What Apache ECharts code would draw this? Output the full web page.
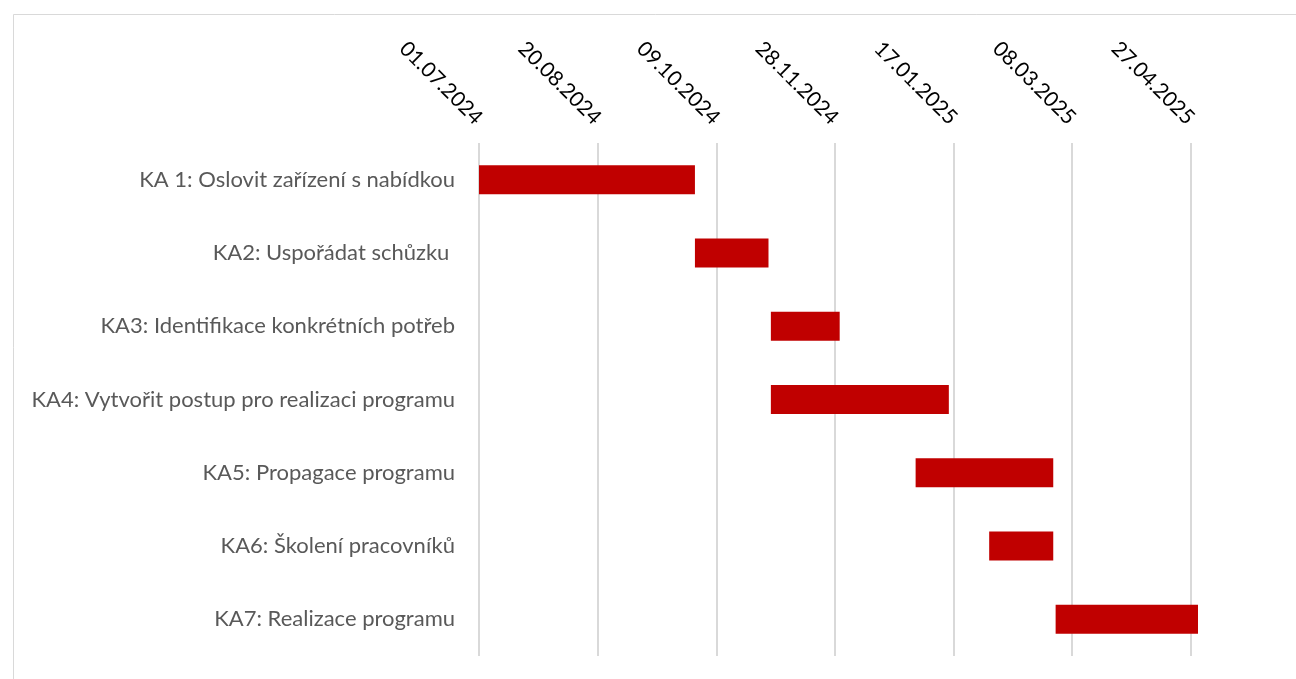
<!DOCTYPE html>
<html>
<head>
<meta charset="utf-8">
<script src="https://cdn.jsdelivr.net/npm/echarts@6/dist/echarts.min.js"></script>
<style>
  html, body { margin: 0; padding: 0; background: #fff; }
  #chart { width: 1296px; height: 679px; }
</style>
</head>
<body>
<div id="chart"></div>
<script>
// activities and their dates (dd.mm.yyyy)
var tasks = [
  'KA 1: Oslovit zařízení s nabídkou',
  'KA2: Uspořádat schůzku ',
  'KA3: Identifikace konkrétních potřeb',
  'KA4: Vytvořit postup pro realizaci programu',
  'KA5: Propagace programu',
  'KA6: Školení pracovníků',
  'KA7: Realizace programu'
];
var startDates = ['01.07.2024', '30.09.2024', '01.11.2024', '01.11.2024', '01.01.2025', '01.02.2025', '01.03.2025'];
var endDates   = ['30.09.2024', '31.10.2024', '30.11.2024', '15.01.2025', '28.02.2025', '28.02.2025', '30.04.2025'];

// axis: starts 01.07.2024, tick every 50 days
var axisStart = '01.07.2024';
var axisEnd = '30.04.2025';
var tickDays = 50;

var DAY = 86400000;
function parseDate(s) {
  var p = s.split('.');
  return Date.UTC(+p[2], +p[1] - 1, +p[0]);
}
function pad(n) { return n < 10 ? '0' + n : '' + n; }
var t0 = parseDate(axisStart);
function toDays(s) { return Math.round((parseDate(s) - t0) / DAY); }
function fmt(days) {
  var d = new Date(t0 + days * DAY);
  return pad(d.getUTCDate()) + '.' + pad(d.getUTCMonth() + 1) + '.' + d.getUTCFullYear();
}

var offsets = startDates.map(toDays);
var durations = endDates.map(function (e, i) { return toDays(e) - offsets[i]; });

var chart = echarts.init(document.getElementById('chart'));

var option = {
  animation: false,
  backgroundColor: '#fff',
  textStyle: { fontFamily: 'Lato' },
  graphic: [{
    type: 'rect',
    left: 11,
    top: 12,
    shape: { width: 1400, height: 800 },
    style: { fill: 'none', stroke: '#d9d9d9', lineWidth: 1 },
    silent: true
  }],
  grid: {
    left: 479,
    right: 98,
    top: 143,
    bottom: 23
  },
  xAxis: {
    type: 'value',
    position: 'top',
    min: 0,
    max: toDays(axisEnd),
    interval: tickDays,
    axisLine: { show: false },
    axisTick: { show: false },
    axisLabel: {
      rotate: 45,
      margin: 22,
      color: '#000',
      fontSize: 21,
      fontFamily: 'Lato',
      showMaxLabel: false,
      formatter: function (v) { return v % tickDays === 0 ? fmt(v) : ''; }
    },
    splitLine: {
      show: true,
      showMaxLine: false,
      lineStyle: { color: '#d9d9d9', width: 2 }
    }
  },
  yAxis: {
    type: 'category',
    inverse: true,
    data: tasks,
    axisLine: { show: false },
    axisTick: { show: false },
    axisLabel: {
      margin: 24,
      color: '#595959',
      fontSize: 22,
      fontFamily: 'Lato'
    }
  },
  series: [
    {
      name: 'start',
      type: 'bar',
      stack: 'g',
      barWidth: 29,
      itemStyle: { color: 'transparent' },
      data: offsets
    },
    {
      name: 'duration',
      type: 'bar',
      stack: 'g',
      barWidth: 29,
      itemStyle: { color: '#c00000' },
      data: durations
    }
  ]
};

chart.setOption(option);
</script>
</body>
</html>
